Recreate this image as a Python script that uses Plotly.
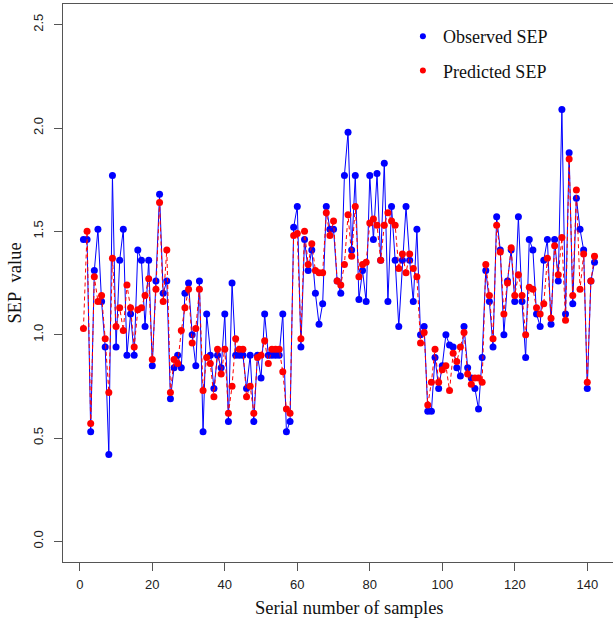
import plotly.graph_objects as go

samples = list(range(1, 143))

observed_sep = [
    1.46, 1.46, 0.53, 1.31, 1.51, 1.16, 0.94, 0.42, 1.77, 0.94,
    1.36, 1.51, 0.90, 1.10, 0.90, 1.41, 1.36, 1.04, 1.36, 0.85,
    1.26, 1.68, 1.20, 1.26, 0.69, 0.84, 0.90, 0.84, 1.20, 1.25,
    1.00, 0.85, 1.26, 0.53, 1.10, 0.90, 0.74, 0.90, 0.84, 1.10,
    0.58, 1.25, 0.90, 0.90, 0.90, 0.74, 0.90, 0.58, 0.90, 0.79,
    1.10, 0.90, 0.90, 0.90, 0.90, 1.10, 0.53, 0.58, 1.52, 1.62,
    0.94, 1.46, 1.31, 1.41, 1.20, 1.05, 1.15, 1.62, 1.51, 1.51,
    1.26, 1.20, 1.77, 1.98, 1.41, 1.77, 1.17, 1.31, 1.16, 1.77,
    1.46, 1.78, 1.36, 1.83, 1.16, 1.62, 1.36, 1.04, 1.36, 1.62,
    1.36, 1.16, 1.51, 1.00, 1.04, 0.63, 0.63, 0.89, 0.74, 0.85,
    1.00, 0.95, 0.94, 0.84, 0.80, 1.04, 0.84, 0.79, 0.74, 0.64,
    0.89, 1.31, 1.16, 0.94, 1.57, 1.41, 1.00, 1.26, 1.41, 1.16,
    1.57, 1.16, 0.89, 1.46, 1.41, 1.10, 1.04, 1.36, 1.46, 1.05,
    1.46, 1.26, 2.09, 1.10, 1.88, 1.15, 1.66, 1.51, 1.41, 0.74,
    1.26, 1.35,
]

predicted_sep = [
    1.03, 1.50, 0.57, 1.28, 1.16, 1.19, 0.98, 0.72, 1.37, 1.04,
    1.13, 1.02, 1.24, 1.13, 0.94, 1.12, 1.13, 1.19, 1.27, 0.88,
    1.22, 1.64, 1.16, 1.41, 0.72, 0.88, 0.86, 1.02, 1.13, 1.22,
    0.96, 1.03, 1.22, 0.73, 0.89, 0.86, 0.70, 0.93, 0.81, 0.93,
    0.62, 0.75, 0.98, 0.93, 0.93, 0.70, 0.75, 0.62, 0.89, 0.90,
    0.97, 0.86, 0.93, 0.93, 0.93, 0.82, 0.64, 0.62, 1.48, 1.49,
    0.98, 1.50, 1.34, 1.44, 1.31, 1.30, 1.30, 1.59, 1.48, 1.55,
    1.26, 1.24, 1.34, 1.58, 1.38, 1.62, 1.28, 1.34, 1.35, 1.54,
    1.56, 1.53, 1.36, 1.53, 1.59, 1.55, 1.53, 1.32, 1.39, 1.30,
    1.39, 1.32, 1.28, 0.96, 1.01, 0.66, 0.77, 0.93, 0.77, 0.83,
    0.85, 0.73, 0.91, 0.87, 0.94, 1.01, 0.81, 0.76, 0.79, 0.79,
    0.77, 1.34, 1.19, 0.98, 1.53, 1.40, 1.10, 1.25, 1.42, 1.19,
    1.29, 1.19, 1.00, 1.23, 1.22, 1.13, 1.10, 1.15, 1.37, 1.08,
    1.43, 1.29, 1.47, 1.07, 1.85, 1.19, 1.70, 1.22, 1.39, 0.77,
    1.26, 1.38,
]

x_ticks = [0, 20, 40, 60, 80, 100, 120, 140]
y_ticks = [0.0, 0.5, 1.0, 1.5, 2.0, 2.5]

serif = "Liberation Serif, Times New Roman, serif"
sans = "Liberation Sans, Arial, sans-serif"

fig = go.Figure()

fig.add_trace(go.Scatter(
    x=samples, y=observed_sep, mode="lines+markers",
    line=dict(color="#0000ff", width=1),
    marker=dict(color="#0000ff", size=7),
    showlegend=False,
))
fig.add_trace(go.Scatter(
    x=samples, y=predicted_sep, mode="lines+markers",
    line=dict(color="#ff0000", width=1, dash="4px,3px"),
    marker=dict(color="#ff0000", size=7),
    showlegend=False,
))
# legend-only entries (dots only)
fig.add_trace(go.Scatter(
    x=[None], y=[None], mode="markers", name="Observed SEP",
    marker=dict(color="#0000ff", size=6), legendgroup="a",
))
fig.add_trace(go.Scatter(
    x=[None], y=[None], mode="markers", name="Predicted SEP",
    marker=dict(color="#ff0000", size=6), legendgroup="b",
))

fig.update_layout(
    width=613, height=628,
    margin=dict(l=63, r=0, t=4, b=66),
    paper_bgcolor="white", plot_bgcolor="white",
    showlegend=True,
    legend=dict(
        x=0.618, y=0.975, xanchor="left", yanchor="top",
        font=dict(family=serif, size=18, color="#111"),
        bgcolor="rgba(0,0,0,0)", tracegroupgap=8,
    ),
    xaxis=dict(
        range=[-4.64, 147.1], tickvals=x_ticks,
        showgrid=False, zeroline=False,
        showline=True, linecolor="#555", linewidth=1, mirror=True,
        ticks="outside", ticklen=8, tickcolor="#555",
        ticklabelstandoff=2,
        tickfont=dict(family=sans, size=13, color="#222"),
    ),
    yaxis=dict(
        range=[-0.1, 2.6], tickvals=y_ticks, tickformat=".1f",
        showgrid=False, zeroline=False,
        showline=True, linecolor="#555", linewidth=1, mirror=True,
        ticks="outside", ticklen=8, tickcolor="#555", tickangle=-90,
        ticklabelstandoff=6,
        tickfont=dict(family=sans, size=13, color="#222"),
        title=dict(text="SEP\u00a0 value",
                   font=dict(family=serif, size=18.5, color="#111"), standoff=4),
    ),
    annotations=[dict(
        text="Serial number of samples", xref="paper", yref="paper",
        x=0.52, y=0, xanchor="center", yanchor="middle", yshift=-46,
        showarrow=False, font=dict(family=serif, size=18.5, color="#111"),
    )],
)

fig.write_html("out.html")
